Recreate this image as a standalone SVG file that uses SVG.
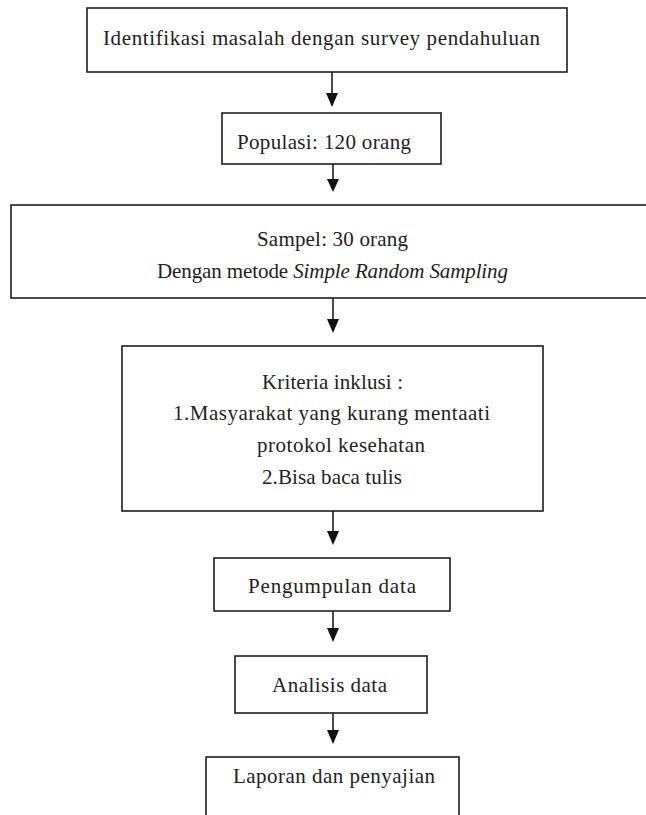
<svg xmlns="http://www.w3.org/2000/svg" width="646" height="815" viewBox="0 0 646 815">
<style>
.box{fill:#fff;stroke:#1e1e1e;stroke-width:1.6}
.t{font-family:"Liberation Serif","Times New Roman",serif;font-size:21px;fill:#222;text-anchor:middle}
.it{font-style:italic}
.ln{stroke:#1e1e1e;stroke-width:1.6;fill:none}
.ah{fill:#111}
</style>
<rect width="646" height="815" fill="#fff"/>
<g id="connectors">
<line class="ln" x1="332" y1="72" x2="332" y2="95"/><polygon class="ah" points="326,93 338,93 332,107"/>
<line class="ln" x1="333" y1="164" x2="333" y2="181"/><polygon class="ah" points="327,179 339,179 333,192"/>
<line class="ln" x1="333" y1="298" x2="333" y2="321"/><polygon class="ah" points="327,319 339,319 333,333"/>
<line class="ln" x1="333" y1="511" x2="333" y2="533"/><polygon class="ah" points="327,531 339,531 333,545"/>
<line class="ln" x1="333" y1="611" x2="333" y2="630"/><polygon class="ah" points="327,628 339,628 333,642"/>
<line class="ln" x1="333" y1="713" x2="333" y2="732"/><polygon class="ah" points="327,730 339,730 333,744"/>
</g>
<g id="n1"><rect class="box" x="87" y="8" width="480" height="64"/><text class="t" x="321.5" y="45" textLength="437">Identifikasi masalah dengan survey pendahuluan</text></g>
<g id="n2"><rect class="box" x="222" y="113" width="219" height="51"/><text class="t" x="324" y="149" textLength="174">Populasi: 120 orang</text></g>
<g id="n3"><rect class="box" x="11" y="205" width="645" height="93"/><text class="t" x="332.5" y="246" textLength="151">Sampel: 30 orang</text><text class="t" x="332.5" y="278" textLength="351">Dengan metode <tspan class="it">Simple Random Sampling</tspan></text></g>
<g id="n4"><rect class="box" x="122" y="346" width="421" height="165"/><text class="t" x="332.5" y="389" textLength="141">Kriteria inklusi :</text><text class="t" x="331.5" y="420" textLength="317">1.Masyarakat yang kurang mentaati</text><text class="t" x="341" y="452" textLength="168">protokol kesehatan</text><text class="t" x="332" y="484" textLength="140">2.Bisa baca tulis</text></g>
<g id="n5"><rect class="box" x="214" y="558" width="236" height="53"/><text class="t" x="332" y="593" textLength="168">Pengumpulan data</text></g>
<g id="n6"><rect class="box" x="235" y="656" width="192" height="57"/><text class="t" x="329.5" y="692" textLength="115">Analisis data</text></g>
<g id="n7"><rect class="box" x="206" y="757" width="253" height="70"/><text class="t" x="334" y="783" textLength="202">Laporan dan penyajian</text></g>
</svg>
